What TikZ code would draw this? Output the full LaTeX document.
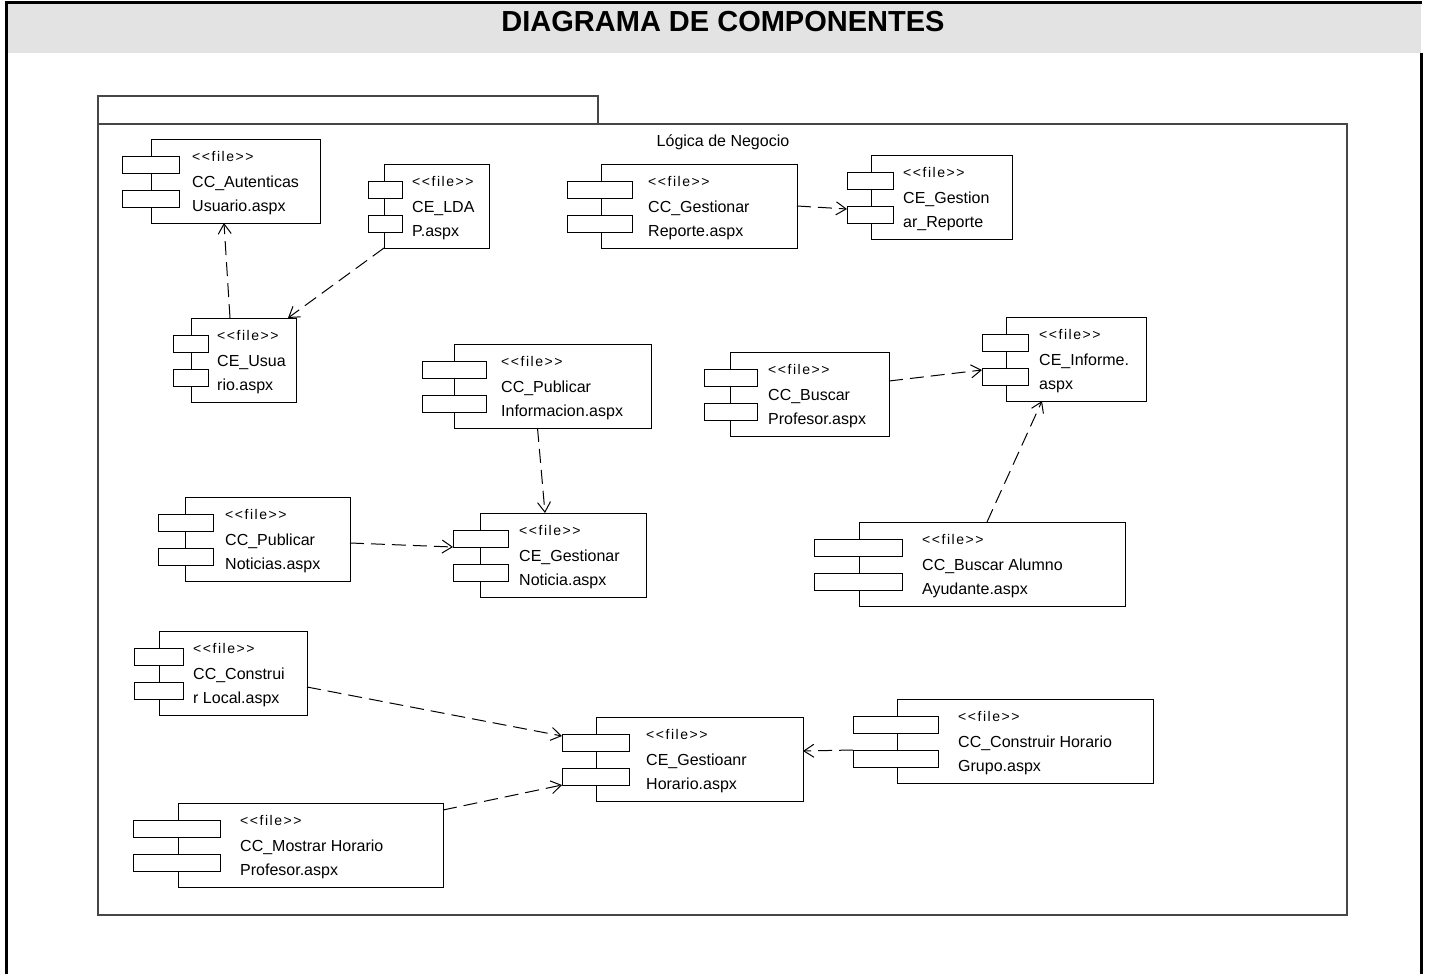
\documentclass[tikz,border=0pt]{standalone}
\usepackage{fontspec}
\setmainfont{Liberation Sans}
\newfontfamily\stereofont[LetterSpace=11]{Liberation Sans}
\usetikzlibrary{arrows.meta,calc}
\definecolor{headgray}{RGB}{227,227,227}
\definecolor{pkgline}{RGB}{70,70,70}

\tikzset{
  compbox/.style={draw=black, line width=1pt, fill=white, inner sep=0pt, outer sep=0pt, minimum height=84pt},
  portbox/.style={draw=black, line width=1pt, fill=white, inner sep=0pt, outer sep=0pt, minimum height=17pt},
  stereo/.style={inner sep=0pt, anchor=base west, font=\stereofont\fontsize{14}{16}\selectfont},
  comptext/.style={inner sep=0pt, anchor=base west, font=\fontsize{16}{19}\selectfont},
  pkgbox/.style={draw=pkgline, line width=1.6pt, inner sep=0pt, outer sep=0pt, anchor=north west},
  dep/.style={line width=1pt, dash pattern=on 14pt off 7pt,
    -{Straight Barb[length=10pt,width=13pt,line width=1pt]}},
}

% component: name, left, top, right, port left, port right, text x, line 2, line 3
\newcommand\umlcomp[9]{%
  \node[compbox, anchor=north west, minimum width=#4pt-#2pt] (#1) at (#2,#3) {};
  \node[portbox, anchor=north west, minimum width=#6pt-#5pt] (#1-p1) at (#5,#3+17) {};
  \node[portbox, anchor=north west, minimum width=#6pt-#5pt] (#1-p2) at (#5,#3+51) {};
  \node[stereo] (#1-s) at (#7,#3+22) {<<file>>};
  \node[comptext] (#1-a) at (#7,#3+48) {#8};
  \node[comptext] (#1-b) at (#7,#3+72) {#9};
}

\begin{document}
\begin{tikzpicture}[x=1pt,y=-1pt]
\useasboundingbox (0,0) rectangle (1429,974);

% page frame and title band
\fill[headgray] (6,3) rectangle (1421,53);
\draw[line width=3pt] (6,974) -- (6,2.5) -- (1421.5,2.5);
\draw[line width=3pt] (1421.5,53) -- (1421.5,974);
\node[font=\bfseries\fontsize{29}{32}\selectfont] (title) at (723,22) {DIAGRAMA DE COMPONENTES};

% package
\node[pkgbox, minimum width=1249pt, minimum height=791pt] (pkg) at (98,124) {};
\node[pkgbox, minimum width=500pt, minimum height=28pt] (pkgtab) at (98,96) {};
\node[inner sep=0pt, anchor=base, font=\fontsize{16}{19}\selectfont] (pkglabel) at (723,146) {Lógica de Negocio};

% components
\umlcomp{auth}{151}{139}{320}{122}{179}{192}{CC\_Autenticas}{Usuario.aspx}
\umlcomp{ldap}{384}{164}{489}{368}{402}{412}{CE\_LDA}{P.aspx}
\umlcomp{usua}{191}{318}{296}{173}{208}{217}{CE\_Usua}{rio.aspx}
\umlcomp{gestrep}{601}{164}{797}{567}{632}{648}{CC\_Gestionar}{Reporte.aspx}
\umlcomp{cegestrep}{871}{155}{1012}{847}{893}{903}{CE\_Gestion}{ar\_Reporte}
\umlcomp{pubinfo}{454}{344}{651}{422}{486}{501}{CC\_Publicar}{Informacion.aspx}
\umlcomp{noticia}{480}{513}{646}{453}{508}{519}{CE\_Gestionar}{Noticia.aspx}
\umlcomp{pubnot}{185}{497}{350}{158}{213}{225}{CC\_Publicar}{Noticias.aspx}
\umlcomp{busprof}{730}{352}{889}{704}{757}{768}{CC\_Buscar}{Profesor.aspx}
\umlcomp{informe}{1006}{317}{1146}{982}{1028}{1039}{CE\_Informe.}{aspx}
\umlcomp{alumno}{859}{522}{1125}{814}{902}{922}{CC\_Buscar Alumno}{Ayudante.aspx}
\umlcomp{local}{159}{631}{307}{134}{183}{193}{CC\_Construi}{r Local.aspx}
\umlcomp{mostrar}{178}{803}{443}{133}{220}{240}{CC\_Mostrar Horario}{Profesor.aspx}
\umlcomp{horario}{596}{717}{803}{562}{629}{646}{CE\_Gestioanr}{Horario.aspx}
\umlcomp{grupo}{897}{699}{1153}{853}{938}{958}{CC\_Construir Horario}{Grupo.aspx}

% dependencies
\draw[dep] ($(usua.north west)+(39,0)$) -- ($(auth.south west)+(73,0)$);
\draw[dep] (ldap.south west) -- ($(usua.north east)+(-8,0)$);
\draw[dep] (gestrep.east) -- ($(cegestrep-p2.north west)+(0,3)$);
\draw[dep] ($(pubinfo.south)+(-15,0)$) -- ($(noticia.north)+(-18,0)$);
\draw[dep] ($(pubnot.east)+(0,4)$) -- (noticia-p1.south west);
\draw[dep] ($(busprof.east)+(0,-13)$) -- ($(informe-p2.north west)+(0,2)$);
\draw[dep] ($(alumno.north)+(-5,0)$) -- ($(informe.south)+(-34,0)$);
\draw[dep] ($(local.east)+(0,14)$) -- ($(horario-p1.north west)+(0,2)$);
\draw[dep] ($(mostrar.north east)+(0,7)$) -- (horario-p2.south west);
\draw[dep] (grupo-p2.north west) -- ($(horario.east)+(0,-8)$);
\end{tikzpicture}
\end{document}
